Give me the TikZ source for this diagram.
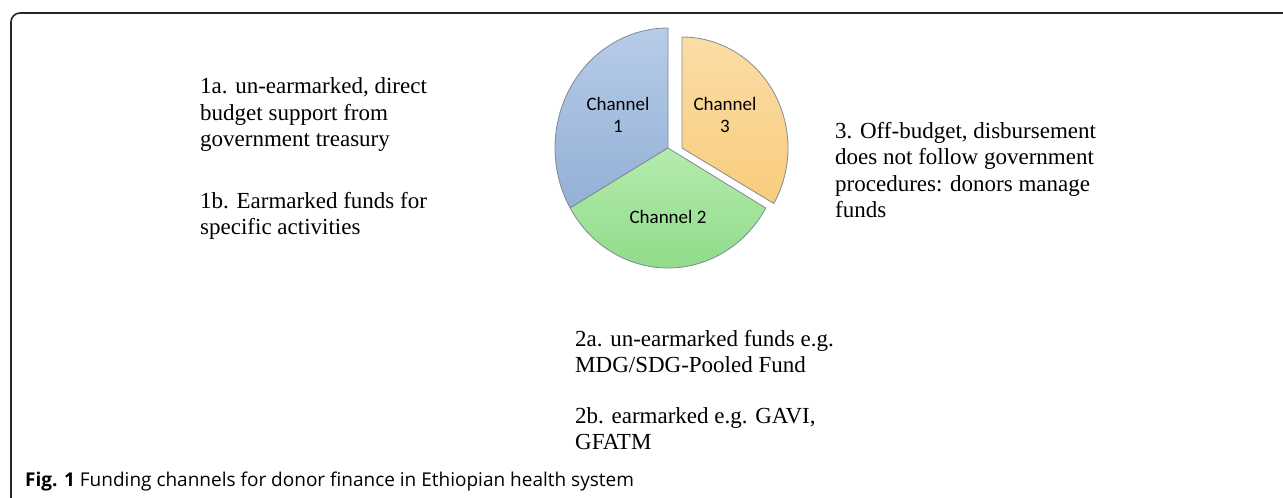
\documentclass[tikz,border=0pt]{standalone}
\usepackage{fontspec}
\setmainfont{Liberation Serif}
\newfontfamily\chanfont{Carlito}
\newfontfamily\capfont{Open Sans}
\usetikzlibrary{positioning}

\definecolor{bluetop}{HTML}{B7CCE8}
\definecolor{bluebot}{HTML}{93B0D6}
\definecolor{greentop}{HTML}{B4ECAD}
\definecolor{greenbot}{HTML}{8CD985}
\definecolor{orangetop}{HTML}{FCDDA6}
\definecolor{orangebot}{HTML}{F8CC7C}
\definecolor{rimgray}{HTML}{7F8A96}

\tikzset{
  note/.style={anchor=base west, inner sep=0pt, align=left,
    font=\fontsize{23}{26.5}\selectfont},
  chan/.style={inner sep=0pt, align=center,
    font=\chanfont\fontsize{19}{22.5}\selectfont},
  slice/.style={draw=rimgray, line width=0.8pt, line join=round}
}

\begin{document}
\begin{tikzpicture}[x=1pt,y=1pt]
            \useasboundingbox (0,0) rectangle (1283,498);
            \draw [line width=1.6pt, color=black!85, rounded corners=9pt] (11,-2) -- (11,485) -- (1285,485);
            % pie, channel 3 pulled out
            \def\ctr{(668,350)}
            \draw [slice, top color=bluetop, bottom color=bluebot] \ctr -- ++(0,120)
                arc [start angle=90, end angle=210, x radius=113, y radius=120] -- cycle;
            \draw [slice, top color=greentop, bottom color=greenbot] \ctr -- ++(-97.9,-60)
                arc [start angle=210, end angle=330, x radius=113, y radius=120] -- cycle;
            \draw [slice, top color=orangetop, bottom color=orangebot] (682,350) -- ++(0,111)
                arc [start angle=90, end angle=-30, x radius=106, y radius=111] -- cycle;
            \node [chan] (ch1) at (618,383) {Channel\\1};
            \node [chan] (ch3) at (725,383) {Channel\\3};
            \node [chan] (ch2) at (668,281) {Channel 2};
            % descriptions (base = last line)
            \node [note] (n1a) at (200,351) {1a. un-earmarked, direct\\budget support from\\government treasury};
            \node [note] (n1b) at (200,263) {1b. Earmarked funds for\\specific activities};
            \node [note] (n3) at (835,280) {3. Off-budget, disbursement\\does not follow government\\procedures: donors manage\\funds};
            \node [note] (n2a) at (575,125) {2a. un-earmarked funds e.g.\\MDG/SDG-Pooled Fund};
            \node [note] (n2b) at (575,48) {2b. earmarked e.g. GAVI,\\GFATM};
            \node [anchor=base west, inner sep=0pt, font=\capfont\fontsize{19}{22}\selectfont] (cap) at (25,11)
                {\textbf{Fig. 1} Funding channels for donor finance in Ethiopian health system};
        \end{tikzpicture}
\end{document}
